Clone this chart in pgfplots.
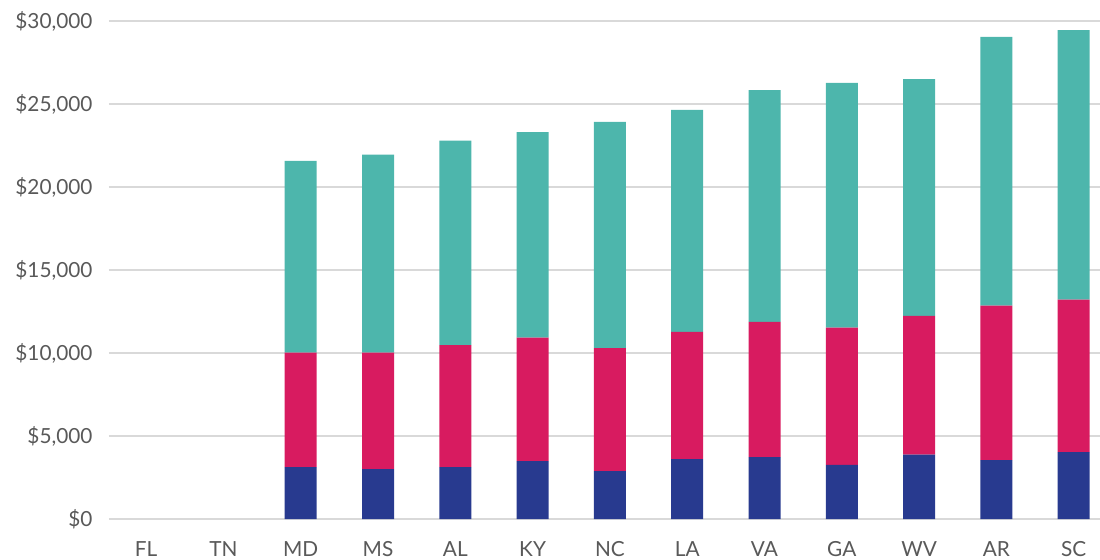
\documentclass[border=0pt]{standalone}
\usepackage{pgfplots}
\pgfplotsset{compat=1.18}
\usepackage{fontspec}
\setmainfont{Lato}
\definecolor{cblue}{HTML}{283A8F}
\definecolor{cred}{HTML}{D81B60}
\definecolor{cteal}{HTML}{4DB6AC}
\definecolor{cgrid}{HTML}{D9D9D9}
\definecolor{ctext}{HTML}{595959}
\begin{document}
\begin{tikzpicture}
\useasboundingbox (0,0) rectangle (550pt,279.5pt);
\begin{axis}[
  at={(54.5pt,20pt)}, anchor=south west,
  scale only axis, width=495.5pt, height=249pt,
  xmin=-0.48, xmax=12.34, ymin=0, ymax=30000,
  ybar stacked, bar width=16pt,
  axis line style={draw=none},
  major tick length=0pt,
  scaled y ticks=false,
  ymajorgrids, grid style={cgrid, line width=0.9pt},
  ytick={0,5000,10000,15000,20000,25000,30000},
  yticklabels={{\$0},{\$5,000},{\$10,000},{\$15,000},{\$20,000},{\$25,000},{\$30,000}},
  xtick={0,1,2,3,4,5,6,7,8,9,10,11,12},
  xticklabels={FL,TN,MD,MS,AL,KY,NC,LA,VA,GA,WV,AR,SC},
  tick label style={font=\fontsize{10.4}{12}\selectfont, text=ctext},
  yticklabel style={xshift=-4.7pt},
  xticklabel style={yshift=-7.5pt, text height=7.6pt, text depth=0pt},
  clip=false,
]
\addplot[fill=cblue, draw=none] coordinates {(0,0) (1,0) (2,3130) (3,3010) (4,3130) (5,3490) (6,2890) (7,3610) (8,3730) (9,3260) (10,3880) (11,3540) (12,4030)};
\addplot[fill=cred, draw=none] coordinates {(0,0) (1,0) (2,6890) (3,7010) (4,7350) (5,7430) (6,7410) (7,7660) (8,8140) (9,8270) (10,8360) (11,9310) (12,9190)};
\addplot[fill=cteal, draw=none] coordinates {(0,0) (1,0) (2,11550) (3,11930) (4,12320) (5,12390) (6,13620) (7,13370) (8,13970) (9,14740) (10,14260) (11,16190) (12,16230)};
\end{axis}
\end{tikzpicture}
\end{document}
